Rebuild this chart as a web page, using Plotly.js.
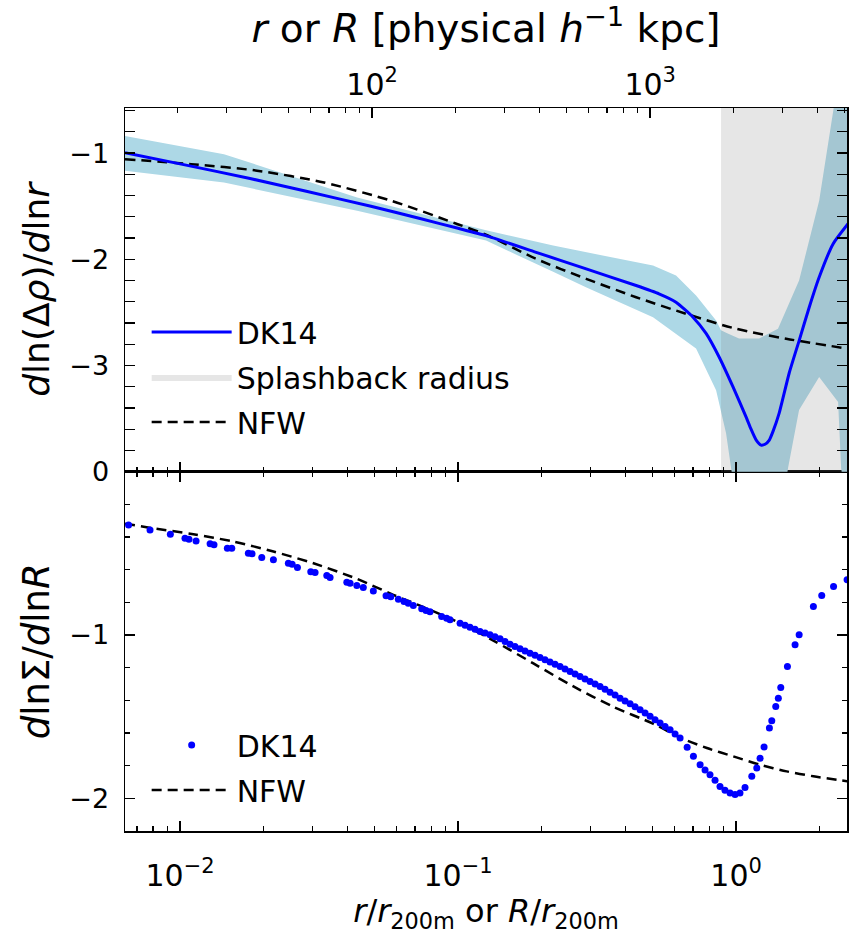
<!DOCTYPE html>
<html><head><meta charset="utf-8">
<script src="https://cdn.plot.ly/plotly-3.0.1.min.js"></script>
<style>body{margin:0;padding:0;background:#fff}</style>
</head><body><div id="chart" style="width:856px;height:935px"></div>
<script>
// ---- top panel: 3D logarithmic slope ----
const dk14_x = [0.00634, 0.01, 0.01786, 0.0282, 0.0486, 0.073, 0.1, 0.126, 0.191, 0.289, 0.437, 0.528, 0.608, 0.700, 0.780, 0.869, 0.975, 1.086, 1.132, 1.180, 1.230, 1.271, 1.315, 1.359, 1.429, 1.552, 1.687, 1.833, 1.990, 2.233, 2.528];
const dk14_y = [-0.995, -1.101, -1.239, -1.357, -1.501, -1.616, -1.708, -1.777, -1.934, -2.090, -2.247, -2.325, -2.404, -2.545, -2.698, -2.920, -3.202, -3.484, -3.600, -3.700, -3.750, -3.742, -3.705, -3.618, -3.449, -3.073, -2.763, -2.451, -2.169, -1.855, -1.665];
const band_x  = [0.00634, 0.01439, 0.04335, 0.1261, 0.2198, 0.2884, 0.5026, 0.6083, 0.7180, 0.8475, 0.8831, 0.9205, 0.9594, 1.025, 1.210, 1.415, 1.538, 1.685, 1.990, 2.233, 2.328, 2.387, 2.531];
const band_hi = [-0.838, -1.010, -1.418, -1.726, -1.871, -1.934, -2.059, -2.153, -2.341, -2.576, -2.669, -2.691, -2.713, -2.747, -2.747, -2.654, -2.438, -2.200, -1.449, -0.604, -0.303, -0.121, 0.298];
const band_lo = [-1.167, -1.277, -1.543, -1.824, -2.118, -2.263, -2.545, -2.704, -2.841, -3.233, -3.435, -3.637, -3.965, -4.45, -5.0, -4.6, -3.965, -3.420, -3.108, -3.289, -3.343, -3.965, -4.45];
const nfw3d_x = [0.00634, 0.01096, 0.01892, 0.03296, 0.05741, 0.0991, 0.126, 0.191, 0.289, 0.437, 0.661, 1.0, 1.514, 2.531];
const nfw3d_y = [-1.057, -1.104, -1.165, -1.277, -1.448, -1.667, -1.768, -1.996, -2.184, -2.357, -2.513, -2.654, -2.748, -2.842];
const rsp_x = [0.883, 3.0];   // splashback radius span (upper edge beyond plot)

// ---- bottom panel: projected logarithmic slope ----
const sig_x = [0.00653, 0.00780, 0.00923, 0.01042, 0.01077, 0.01142, 0.01283, 0.01325, 0.01480, 0.01535, 0.01761, 0.01816, 0.01968, 0.02167, 0.02453, 0.02531, 0.02644, 0.02953, 0.03060, 0.03372, 0.03465, 0.03980, 0.04090, 0.04325, 0.04563, 0.04958, 0.05508, 0.05728, 0.06100, 0.06393, 0.06622, 0.06905, 0.07401, 0.07670, 0.07925, 0.08730, 0.09100, 0.09357,
  0.1017, 0.1060, 0.1104, 0.1151, 0.1200, 0.1251, 0.1303, 0.1358, 0.1416, 0.1476, 0.1538, 0.1603, 0.1671, 0.1742, 0.1815, 0.1892, 0.1972, 0.2055, 0.2142, 0.2233, 0.2328, 0.2426, 0.2529, 0.2636, 0.2747, 0.2863, 0.2984, 0.3111, 0.3242, 0.3379, 0.3522, 0.3671, 0.3826, 0.3988, 0.4157, 0.4332, 0.4516, 0.4707, 0.4906, 0.5113, 0.5329, 0.5555, 0.5790, 0.6034, 0.6290,
  0.6669, 0.7024, 0.7424, 0.7734, 0.8058, 0.8401, 0.8754, 0.9123, 0.9515, 0.9918, 1.033, 1.077, 1.139, 1.187, 1.220, 1.261, 1.318, 1.344, 1.389, 1.419, 1.448, 1.530, 1.630, 1.686, 1.897, 2.033, 2.242, 2.508];
const sig_y = [-0.326, -0.357, -0.383, -0.407, -0.413, -0.424, -0.442, -0.448, -0.469, -0.469, -0.500, -0.503, -0.526, -0.540, -0.561, -0.567, -0.587, -0.612, -0.618, -0.636, -0.648, -0.677, -0.683, -0.697, -0.709, -0.730, -0.760, -0.766, -0.781, -0.795, -0.806, -0.820, -0.840, -0.850, -0.858, -0.887, -0.897, -0.907,
  -0.928, -0.940, -0.952, -0.965, -0.979, -0.988, -0.999, -1.010, -1.023, -1.040, -1.056, -1.070, -1.084, -1.098, -1.111, -1.124, -1.138, -1.152, -1.166, -1.179, -1.193, -1.208, -1.223, -1.239, -1.254, -1.269, -1.284, -1.300, -1.315, -1.332, -1.350, -1.368, -1.387, -1.404, -1.421, -1.439, -1.457, -1.478, -1.498, -1.519, -1.539, -1.560, -1.580, -1.606, -1.631,
  -1.688, -1.743, -1.794, -1.826, -1.855, -1.890, -1.927, -1.951, -1.968, -1.977, -1.968, -1.933, -1.865, -1.815, -1.754, -1.686, -1.570, -1.525, -1.437, -1.387, -1.321, -1.193, -1.060, -0.999, -0.826, -0.758, -0.703, -0.662];
const nfw2d_x = [0.00634, 0.00802, 0.01117, 0.01556, 0.02168, 0.0302, 0.04325, 0.05848, 0.07295, 0.1016, 0.1340, 0.1866, 0.2600, 0.3622, 0.5047, 0.6295, 0.7852, 0.9772, 1.219, 1.521, 1.897, 2.301, 2.508];
const nfw2d_y = [-0.318, -0.347, -0.383, -0.428, -0.489, -0.561, -0.656, -0.754, -0.820, -0.927, -1.034, -1.174, -1.315, -1.440, -1.544, -1.628, -1.692, -1.743, -1.794, -1.835, -1.865, -1.886, -1.896];

// ---- axes labels ----
const r200m_kpc = 2037;
const xRange = [0.00634, 2.506];
const xTickVals = [0.01, 0.1, 1];
const xTickText = ['10<sup>−2</sup>', '10<sup>−1</sup>', '10<sup>0</sup>'];
const kpcTickVals = [100, 1000];
const kpcTickText = ['10<sup>2</sup>', '10<sup>3</sup>'];
const yTopVals = [-3, -2, -1];
const yTopText = ['−3', '−2', '−1'];
const yBotVals = [-2, -1, 0];
const yBotText = ['−2', '−1', '0'];

function logMinor(lo, hi) {
  const v = [];
  for (let e = Math.floor(Math.log10(lo)); e <= Math.ceil(Math.log10(hi)); e++)
    for (let m = 2; m <= 9; m++) { const t = m * Math.pow(10, e); if (t > lo && t < hi) v.push(t); }
  return v;
}
function linMinor(lo, hi, step) {
  const v = [];
  for (let t = Math.ceil(lo / step) * step; t <= hi + 1e-9; t += step) v.push(+t.toFixed(6));
  return v;
}

const FONT = 'DejaVu Sans, sans-serif';
const blue = '#0000ff';
const dash = '10px,6px';
const traces = [
  {x: band_x, y: band_lo, xaxis: 'x2', yaxis: 'y2', mode: 'lines', line: {width: 0, color: 'rgba(0,0,0,0)'}, showlegend: false, hoverinfo: 'skip'},
  {x: band_x, y: band_hi, xaxis: 'x2', yaxis: 'y2', mode: 'lines', line: {width: 0, color: 'rgba(0,0,0,0)'}, fill: 'tonexty', fillcolor: '#add8e6', showlegend: false, hoverinfo: 'skip'},
  {x: [rsp_x[0], rsp_x[1], rsp_x[1], rsp_x[0], rsp_x[0]], y: [-6, -6, 2, 2, -6], xaxis: 'x2', yaxis: 'y2', mode: 'lines', fill: 'toself', fillcolor: 'rgba(128,128,128,0.2)', line: {width: 0, color: 'rgba(0,0,0,0)'}, name: 'Splashback radius', legendrank: 2, legendgroup: 'b'},
  {x: nfw3d_x, y: nfw3d_y, xaxis: 'x2', yaxis: 'y2', mode: 'lines', line: {color: 'black', width: 2.5, dash: dash, shape: 'spline', smoothing: 0.8}, name: 'NFW', legendrank: 3, legendgroup: 'c'},
  {x: dk14_x, y: dk14_y, xaxis: 'x2', yaxis: 'y2', mode: 'lines', line: {color: blue, width: 3, shape: 'spline', smoothing: 0.5}, name: 'DK14', legendrank: 1, legendgroup: 'a'},
  {x: [], y: [], xaxis: 'x3', yaxis: 'y2', showlegend: false, hoverinfo: 'skip'},
  {x: nfw2d_x, y: nfw2d_y, xaxis: 'x', yaxis: 'y', mode: 'lines', line: {color: 'black', width: 2.5, dash: dash, shape: 'spline', smoothing: 0.8}, name: 'NFW', legend: 'legend2', legendrank: 2, legendgroup: 'e'},
  {x: sig_x, y: sig_y, xaxis: 'x', yaxis: 'y', mode: 'markers', marker: {color: blue, size: 7}, name: 'DK14', legend: 'legend2', legendrank: 1, legendgroup: 'd'}
];

const yTickFont = {family: FONT, size: 27, color: 'black'};
const xTickFont = {family: FONT, size: 30, color: 'black'};
const axCommon = {showline: true, linecolor: 'black', linewidth: 1.5, ticks: 'inside', ticklen: 10, tickwidth: 1.5, tickcolor: 'black', showgrid: false, zeroline: false};
const minorCommon = {ticks: 'inside', ticklen: 5, tickwidth: 1.2, tickcolor: 'black'};
const lxr = [Math.log10(xRange[0]), Math.log10(xRange[1])];
const xMinor = logMinor(xRange[0], xRange[1]);
const kMinor = logMinor(xRange[0] * r200m_kpc, xRange[1] * r200m_kpc);

const layout = {
  width: 856, height: 935,
  margin: {l: 125, r: 9, t: 108, b: 104},
  paper_bgcolor: 'white', plot_bgcolor: 'white',
  font: {family: FONT, color: 'black'},
  xaxis: Object.assign({}, axCommon, {type: 'log', range: lxr, anchor: 'y', mirror: 'allticks', tickmode: 'array', tickvals: xTickVals, ticktext: xTickText,
    tickfont: xTickFont, ticklabelstandoff: 17,
    minor: Object.assign({tickvals: xMinor}, minorCommon),
    title: {text: '<i>r</i>/<i>r</i><sub>200m</sub> or <i>R</i>/<i>r</i><sub>200m</sub>', font: {family: FONT, size: 32}, standoff: 8}}),
  xaxis2: Object.assign({}, axCommon, {type: 'log', range: lxr, anchor: 'y2', matches: 'x', showticklabels: false, tickmode: 'array', tickvals: xTickVals,
    minor: Object.assign({tickvals: xMinor}, minorCommon)}),
  xaxis3: Object.assign({}, axCommon, {type: 'log', range: [lxr[0] + Math.log10(r200m_kpc), lxr[1] + Math.log10(r200m_kpc)], anchor: 'y2', overlaying: 'x2', side: 'top',
    tickmode: 'array', tickvals: kpcTickVals, ticktext: kpcTickText, tickfont: xTickFont,
    minor: Object.assign({tickvals: kMinor}, minorCommon),
    title: {text: '<i>r</i> or <i>R</i> [physical <i>h</i><sup>−1</sup> kpc]', font: {family: FONT, size: 39}, standoff: 8}}),
  yaxis: Object.assign({}, axCommon, {domain: [0, 0.497], range: [-2.2, 0], anchor: 'x', mirror: 'allticks', tickmode: 'array', tickvals: yBotVals, ticktext: yBotText,
    tickfont: yTickFont, ticklabelstandoff: 9,
    minor: Object.assign({tickvals: linMinor(-2.2, 0, 0.2)}, minorCommon),
    title: {text: '<i>d</i>lnΣ/<i>d</i>ln<i>R</i>', font: {family: FONT, size: 37}, standoff: 8}}),
  yaxis2: Object.assign({}, axCommon, {domain: [0.497, 1], range: [-4, -0.575], anchor: 'x2', mirror: 'allticks', tickmode: 'array', tickvals: yTopVals, ticktext: yTopText,
    tickfont: yTickFont, ticklabelstandoff: 9,
    minor: Object.assign({tickvals: linMinor(-4, -0.575, 0.2)}, minorCommon),
    title: {text: '<i>d</i>ln(Δ<i>ρ</i>)/<i>d</i>ln<i>r</i>', font: {family: FONT, size: 36}, standoff: 8}}),
  legend: {x: 0.03, y: 0.726, xanchor: 'left', yanchor: 'top', bgcolor: 'rgba(0,0,0,0)', font: {family: FONT, size: 30}, itemwidth: 80, tracegroupgap: 3, traceorder: 'grouped'},
  legend2: {x: 0.03, y: 0.155, xanchor: 'left', yanchor: 'top', bgcolor: 'rgba(0,0,0,0)', font: {family: FONT, size: 30}, itemwidth: 80, tracegroupgap: 3, traceorder: 'grouped'},
  showlegend: true
};

Plotly.newPlot('chart', traces, layout, {staticPlot: true, displayModeBar: false});
</script>
</body></html>
